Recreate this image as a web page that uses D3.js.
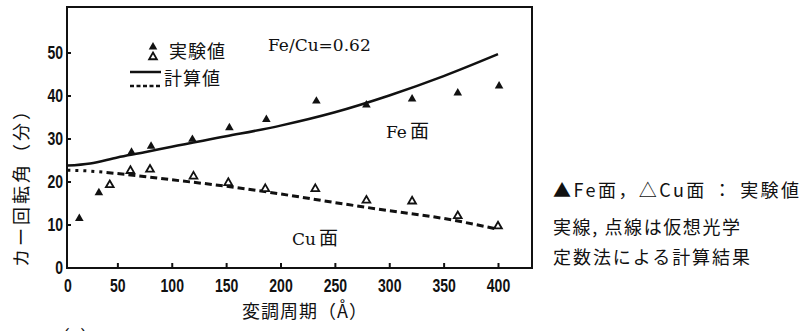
<!DOCTYPE html>
<html>
<head>
<meta charset="utf-8">
<script src="https://cdn.jsdelivr.net/npm/d3@7"></script>
<style>
  body { margin: 0; background: #fff; }
  svg { display: block; }
  .tick-num { font-family: "Liberation Sans", Arial, sans-serif; font-weight: bold; font-size: 18px; }
  .jp { font-family: "Noto Sans CJK JP", sans-serif; }
  .serif { font-family: "DejaVu Serif", "Liberation Serif", serif; }
</style>
</head>
<body>
<svg id="chart" width="800" height="331"></svg>
<script>
var width = 800;
var height = 331;

// calculated curves (仮想光学定数法)
var calcX = [4, 25, 50, 75, 100, 150, 200, 250, 300, 350, 400];
var feCalc = [23.7, 24.2, 25.6, 26.8, 28.1, 30.5, 33.0, 36.1, 40.0, 44.5, 49.6];
var cuCalcX = [4, 20, 40, 70, 100, 150, 200, 250, 300, 350, 400];
var cuCalc = [22.6, 22.5, 22.1, 21.3, 20.4, 18.9, 17.1, 15.1, 13.2, 11.4, 8.9];

// measured points
var feExpX = [15, 33, 63, 81, 119, 153, 187, 233, 279, 321, 363, 401];
var feExp = [11.4, 17.4, 26.8, 28.2, 29.8, 32.5, 34.4, 38.7, 37.8, 39.2, 40.6, 42.2];
var cuExpX = [43, 62, 80, 120, 152, 186, 232, 279, 321, 363, 400];
var cuExp = [19.2, 22.5, 22.8, 21.2, 19.7, 18.3, 18.3, 15.6, 15.4, 12.0, 9.6];

var xTicks = [0, 50, 100, 150, 200, 250, 300, 350, 400];
var yTicks = [0, 10, 20, 30, 40, 50];

var svg = d3.select("#chart");

var frame = { left: 67, right: 532, top: 7, bottom: 268 };

var x = d3.scaleLinear().domain([0, 400]).range([63, 498]);
var y = d3.scaleLinear().domain([0, 50]).range([267.5, 52.5]);

// frame
svg.append("rect")
  .attr("x", frame.left)
  .attr("y", frame.top)
  .attr("width", frame.right - frame.left)
  .attr("height", frame.bottom - frame.top)
  .attr("fill", "none")
  .attr("stroke", "#111")
  .attr("stroke-width", 2);

// x axis, ticks pointing inward
var xAxis = svg.append("g")
  .attr("transform", `translate(0,${frame.bottom})`)
  .call(d3.axisBottom(x).tickValues(xTicks).tickSizeInner(-5).tickSizeOuter(0).tickPadding(11));
xAxis.select(".domain").remove();
xAxis.selectAll(".tick line").attr("stroke", "#111").attr("stroke-width", 2);
xAxis.selectAll(".tick text").attr("class", "tick-num").attr("fill", "#111")
  .attr("font-size", null).attr("font-family", null)
  .attr("transform", "scale(0.78,1)");
// the zero sits on the frame corner
xAxis.selectAll(".tick").filter(d => d === 0).attr("transform", `translate(${frame.left + 1},0)`).select("line").remove();

// y axis
var yAxis = svg.append("g")
  .attr("transform", `translate(${frame.left},0)`)
  .call(d3.axisLeft(y).tickValues(yTicks).tickSizeInner(-4).tickSizeOuter(0).tickPadding(5));
yAxis.select(".domain").remove();
yAxis.selectAll(".tick line").attr("stroke", "#111").attr("stroke-width", 2);
yAxis.selectAll(".tick text").attr("class", "tick-num").attr("fill", "#111")
  .attr("font-size", null).attr("font-family", null)
  .attr("transform", "scale(0.78,1)");
yAxis.selectAll(".tick").filter(d => d === 0).select("line").remove();

// calculated lines
var line = d3.line().x(d => x(d[0])).y(d => y(d[1])).curve(d3.curveMonotoneX);

svg.append("path")
  .datum(calcX.map((v, i) => [v, feCalc[i]]))
  .attr("fill", "none")
  .attr("stroke", "#111")
  .attr("stroke-width", 2.5)
  .attr("d", line);

var cuPts = cuCalcX.map((v, i) => [v, cuCalc[i]]);
svg.append("path")
  .datum(cuPts.filter(d => d[0] <= 40))
  .attr("fill", "none")
  .attr("stroke", "#111")
  .attr("stroke-width", 3)
  .attr("stroke-dasharray", "3,5")
  .attr("d", line);
svg.append("path")
  .datum(cuPts.filter(d => d[0] >= 40))
  .attr("fill", "none")
  .attr("stroke", "#111")
  .attr("stroke-width", 3)
  .attr("stroke-dasharray", "7,4")
  .attr("d", line);

// measured markers
var tri = d3.symbol().type(d3.symbolTriangle).size(32);
var triOpen = d3.symbol().type(d3.symbolTriangle).size(26);

svg.selectAll(".fe")
  .data(feExpX.map((v, i) => [v, feExp[i]]))
  .enter()
  .append("path")
  .attr("class", "fe")
  .attr("transform", d => `translate(${x(d[0])},${y(d[1])})`)
  .attr("d", tri)
  .attr("fill", "#111");

svg.selectAll(".cu")
  .data(cuExpX.map((v, i) => [v, cuExp[i]]))
  .enter()
  .append("path")
  .attr("class", "cu")
  .attr("transform", d => `translate(${x(d[0])},${y(d[1])})`)
  .attr("d", triOpen)
  .attr("fill", "#fff")
  .attr("stroke", "#111")
  .attr("stroke-width", 1.8);

// legend
svg.append("path").attr("transform", "translate(153,47)").attr("d", tri).attr("fill", "#111");
svg.append("path").attr("transform", "translate(153,57)").attr("d", triOpen)
  .attr("fill", "#fff").attr("stroke", "#111").attr("stroke-width", 1.8);
svg.append("text").attr("class", "jp").attr("x", 169).attr("y", 58)
  .style("font-size", "18px").style("letter-spacing", "1px").attr("fill", "#111").text("実験値");

svg.append("line").attr("x1", 130).attr("x2", 161).attr("y1", 72).attr("y2", 72)
  .attr("stroke", "#111").attr("stroke-width", 2.5);
svg.append("line").attr("x1", 130).attr("x2", 161).attr("y1", 86).attr("y2", 86)
  .attr("stroke", "#111").attr("stroke-width", 2.5).attr("stroke-dasharray", "4,2.5");
svg.append("text").attr("class", "jp").attr("x", 164).attr("y", 85)
  .style("font-size", "18px").style("letter-spacing", "1px").attr("fill", "#111").text("計算値");

// annotations inside the plot
svg.append("text").attr("class", "serif").attr("x", 268).attr("y", 51)
  .style("font-size", "17px").attr("fill", "#111").text("Fe/Cu=0.62");

var feLab = svg.append("text").attr("x", 386).attr("y", 138).attr("fill", "#111");
feLab.append("tspan").attr("class", "serif").style("font-size", "17px").text("Fe");
feLab.append("tspan").attr("class", "jp").attr("dx", 3).style("font-size", "19px").text("面");

var cuLab = svg.append("text").attr("x", 292).attr("y", 245).attr("fill", "#111");
cuLab.append("tspan").attr("class", "serif").style("font-size", "17px").text("Cu");
cuLab.append("tspan").attr("class", "jp").attr("dx", 3).style("font-size", "19px").text("面");

// axis titles
svg.append("text").attr("class", "jp")
  .attr("transform", "translate(28,183) rotate(-90)")
  .attr("text-anchor", "middle")
  .style("font-size", "18px").style("letter-spacing", "3px")
  .attr("fill", "#111").text("カー回転角（分）");

svg.append("text").attr("class", "jp")
  .attr("x", 305).attr("y", 318)
  .attr("text-anchor", "middle")
  .style("font-size", "18px").style("letter-spacing", "1px")
  .attr("fill", "#111").text("変調周期（Å）");

svg.append("text").attr("class", "serif")
  .attr("x", 63).attr("y", 342)
  .style("font-size", "18px").attr("fill", "#111").text("(c)");

// side notes
var notes = ["▲Fe面，△Cu面 ： 実験値", "実線, 点線は仮想光学", "定数法による計算結果"];
var noteY = [197, 234, 264];
var noteLen = [246, 187, 197];
svg.selectAll(".note")
  .data(notes)
  .enter()
  .append("text")
  .attr("class", "note jp")
  .attr("x", 553)
  .attr("y", (d, i) => noteY[i])
  .attr("textLength", (d, i) => noteLen[i])
  .attr("lengthAdjust", "spacing")
  .style("font-size", "18px")
  .attr("fill", "#111")
  .text(d => d);
</script>
</body>
</html>
